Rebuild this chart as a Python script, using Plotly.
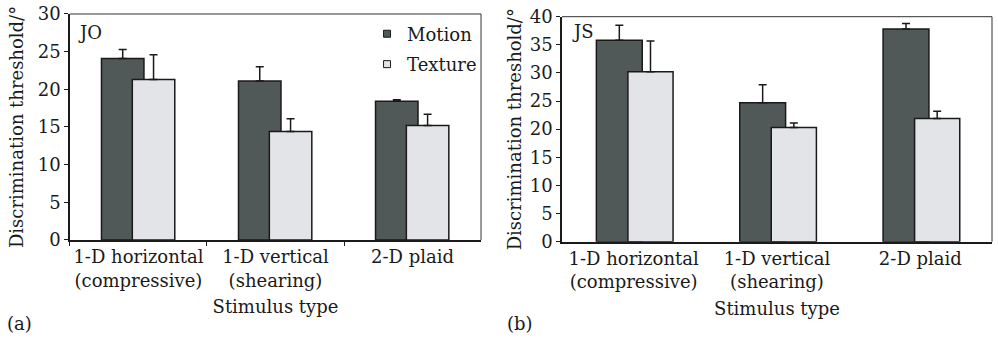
import plotly.graph_objects as go
from plotly.subplots import make_subplots

categories = ["1-D horizontal<br>(compressive)", "1-D vertical<br>(shearing)", "2-D plaid"]

jo_motion = [24.1, 21.1, 18.4]
jo_motion_err_top = [25.3, 23.0, 18.6]
jo_texture = [21.3, 14.4, 15.2]
jo_texture_err_top = [24.6, 16.1, 16.7]

js_motion = [35.8, 24.7, 37.8]
js_motion_err_top = [38.5, 27.9, 38.8]
js_texture = [30.2, 20.3, 21.9]
js_texture_err_top = [35.7, 21.1, 23.2]

y_ticks_a = [0, 5, 10, 15, 20, 25, 30]
y_ticks_b = [0, 5, 10, 15, 20, 25, 30, 35, 40]

MOTION = "#505858"
TEXTURE = "#e2e4e8"
FONT = "DejaVu Serif"
FS = 18

fig = make_subplots(rows=1, cols=2)


def add_bars(col, vals, tops, color, name, offset, width):
    fig.add_trace(go.Bar(
        x=categories, y=vals, name=name, showlegend=False,
        marker=dict(color=color, line=dict(color="#1a1a1a", width=1.5)),
        offset=offset, width=width,
        error_y=dict(type="data", symmetric=False,
                     array=[t - v for t, v in zip(tops, vals)],
                     arrayminus=[0] * len(vals),
                     color="#1a1a1a", thickness=1.5, width=4),
    ), row=1, col=col)


add_bars(1, jo_motion, jo_motion_err_top, MOTION, "Motion", -0.27, 0.31)
add_bars(1, jo_texture, jo_texture_err_top, TEXTURE, "Texture", -0.045, 0.31)
add_bars(2, js_motion, js_motion_err_top, MOTION, "Motion", -0.26, 0.32)
add_bars(2, js_texture, js_texture_err_top, TEXTURE, "Texture", -0.04, 0.315)

# legend proxies
for name, color in [("Motion", MOTION), ("Texture", TEXTURE)]:
    fig.add_trace(go.Scatter(
        x=[None], y=[None], mode="markers", name=name, legendgroup=name,
        marker=dict(symbol="square", size=7, color=color,
                    line=dict(color="#1a1a1a", width=1)),
    ), row=1, col=1)

fig.update_layout(
    width=998, height=338,
    margin=dict(l=0, r=0, t=0, b=0),
    paper_bgcolor="white", plot_bgcolor="white",
    barmode="overlay",
    font=dict(family=FONT, size=FS, color="#1a1a1a"),
    showlegend=True,
    legend=dict(x=0.483, xanchor="right", y=0.954, yanchor="top",
                bgcolor="rgba(0,0,0,0)", font=dict(size=FS),
                itemwidth=30, tracegroupgap=4),
)

axis_common_x = dict(
    type="category", range=[-0.5, 2.5], showline=True, linecolor="#1a1a1a",
    linewidth=1.5, showgrid=False, zeroline=False, automargin=False,
    tickangle=0,
    tickfont=dict(family=FONT, size=FS),
    title=dict(text="Stimulus type", font=dict(family=FONT, size=FS), standoff=11),
)
fig.update_xaxes(**axis_common_x)
fig.update_xaxes(domain=[0.0701, 0.482], ticks="outside", tickson="boundaries",
                 ticklen=4, tickcolor="#1a1a1a", row=1, col=1)
fig.update_xaxes(domain=[0.5631, 0.994], ticks="", row=1, col=2)

axis_common_y = dict(
    showline=True, linecolor="#1a1a1a", linewidth=1.5, showgrid=False,
    zeroline=False, ticks="outside", ticklen=4, tickcolor="#1a1a1a",
    automargin=False,
    tickfont=dict(family=FONT, size=FS),
)
fig.update_yaxes(**axis_common_y)
fig.update_yaxes(domain=[0.29, 0.9586], range=[0, 30], tickvals=y_ticks_a,
                 title=dict(text="Discrimination threshold/°",
                            font=dict(family=FONT, size=FS), standoff=9),
                 row=1, col=1)
fig.update_yaxes(domain=[0.285, 0.9506], range=[0, 40], tickvals=y_ticks_b,
                 title=dict(text="Discrimination threshold/°",
                            font=dict(family=FONT, size=FS), standoff=3),
                 row=1, col=2)

# top/right frame lines
for xr, yr in [("x domain", "y domain"), ("x2 domain", "y2 domain")]:
    fig.add_shape(type="line", xref=xr, yref=yr, x0=0, x1=1, y0=1, y1=1,
                  line=dict(color="#333333", width=1))
    fig.add_shape(type="line", xref=xr, yref=yr, x0=1, x1=1, y0=0, y1=1,
                  line=dict(color="#333333", width=1))

# panel labels
fig.add_annotation(text="JO", xref="x domain", yref="y domain", x=0.015, y=0.92,
                   xanchor="left", yanchor="middle", showarrow=False,
                   font=dict(family=FONT, size=FS))
fig.add_annotation(text="JS", xref="x2 domain", yref="y2 domain", x=0.018, y=0.935,
                   xanchor="left", yanchor="middle", showarrow=False,
                   font=dict(family=FONT, size=FS))
fig.add_annotation(text="(a)", xref="paper", yref="paper", x=0.005, y=0.044,
                   xanchor="left", yanchor="middle", showarrow=False,
                   font=dict(family=FONT, size=FS))
fig.add_annotation(text="(b)", xref="paper", yref="paper", x=0.506, y=0.044,
                   xanchor="left", yanchor="middle", showarrow=False,
                   font=dict(family=FONT, size=FS))

fig.write_html("out.html")
